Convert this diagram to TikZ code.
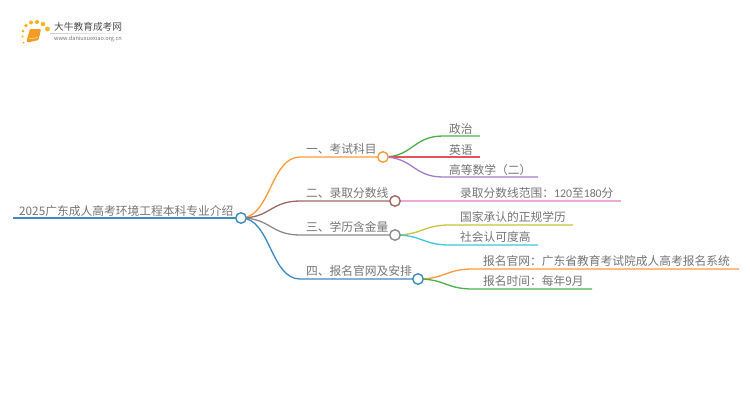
\documentclass[tikz,border=0pt]{standalone}
\usepackage{fontspec}
\setmainfont{Noto Sans CJK SC}
\newfontfamily\digitfont{Carlito}
\usetikzlibrary{calc}
\definecolor{txt}{HTML}{757575}
\definecolor{cblue}{HTML}{3C8AC4}
\definecolor{corange}{HTML}{FF9A3C}
\definecolor{cbrown}{HTML}{A0695F}
\definecolor{cgray}{HTML}{8C8C8C}
\definecolor{cgreen}{HTML}{4CB04A}
\definecolor{cred}{HTML}{E8505B}
\definecolor{cpurple}{HTML}{A57CCB}
\definecolor{cpink}{HTML}{F0A6D8}
\definecolor{colive}{HTML}{C8C442}
\definecolor{ccyan}{HTML}{3CC8DC}
\definecolor{bookor}{HTML}{F59A23}
\tikzset{
  x=1pt,y=-1pt,
  hub/.style={circle,draw=#1,fill=white,line width=1.4pt,minimum size=10.5pt,inner sep=0pt},
  wire/.style={line width=1.3pt,draw=#1},
  lab/.style={font=\fontsize{11.75}{12}\selectfont,text=txt,anchor=base west,inner sep=0pt},
  pt/.style={inner sep=0pt,minimum size=0pt},
}
\newcommand{\linkcurve}[4]{% from, knee, end, colour
  \coordinate (mid) at ($(#1)!0.5!(#2)$);
  \draw[wire=#4] (#1) .. controls (mid |- #1) and (mid |- #2) .. (#2) -- (#3);}
\begin{document}
\begin{tikzpicture}
\useasboundingbox (0,0) rectangle (750,410);
\fill[white] (0,0) rectangle (750,410);
% logo
\foreach \p/\r in {{22.5,36.5}/1.2,{23,31}/1.5,{26,25.5}/1.8,{31,22.5}/2,{37,22}/2.1,{43,24}/2.2,{47.5,29}/2.4,{23.5,42.5}/1}
  \fill[bookor!75!yellow] (\p) circle (\r);
\fill[bookor,rounded corners=1pt] (30,29) -- (41,29) -- (38.5,40) -- (28,42.5) -- (26.5,41) -- cycle;
\draw[white!80!bookor,line width=0.5pt] (29,38.8) -- (38,37.6);
\shade[left color=black!20,right color=white,draw=none] (50,33) rectangle (133,33.6);
\node[pt,anchor=west,font=\fontsize{9.7}{10}\selectfont,text=black!70] (logot) at (54,27) {大牛教育成考网};
\node[pt,anchor=west,font=\fontsize{5.6}{6}\selectfont,text=black!55] (logou) at (54,39) {www.daniuxuexiao.org.cn};
% hubs and line ends
\coordinate (rootL) at (13,218);
\coordinate (rootC) at (241,218);
\coordinate (n1) at (383,157); \coordinate (n1k) at (300,157);
\coordinate (n2) at (395,201); \coordinate (n2k) at (300,201);
\coordinate (n3) at (395,235); \coordinate (n3k) at (300,235);
\coordinate (n4) at (418,279); \coordinate (n4k) at (300,279);
% wires
\draw[wire=cblue] (rootL) -- (rootC);
\linkcurve{rootC}{n1k}{n1}{corange}
\linkcurve{rootC}{n2k}{n2}{cbrown}
\linkcurve{rootC}{n3k}{n3}{cgray}
\linkcurve{rootC}{n4k}{n4}{cblue}
\coordinate (a1k) at (443,136); \coordinate (a1) at (480,136);
\coordinate (a2) at (480,157);
\coordinate (a3k) at (443,177); \coordinate (a3) at (538,177);
\coordinate (b1) at (621,201);
\coordinate (c1k) at (450,225); \coordinate (c1) at (573,225);
\coordinate (c2k) at (450,245); \coordinate (c2) at (538,245);
\coordinate (d1k) at (473,269); \coordinate (d1) at (739,269);
\coordinate (d2k) at (473,289); \coordinate (d2) at (592,289);
\linkcurve{n1}{a1k}{a1}{cgreen}
\draw[wire=cred] (n1) -- (a2);
\linkcurve{n1}{a3k}{a3}{cpurple}
\draw[wire=cpink] (n2) -- (b1);
\linkcurve{n3}{c1k}{c1}{colive}
\linkcurve{n3}{c2k}{c2}{ccyan}
\linkcurve{n4}{d1k}{d1}{corange}
\linkcurve{n4}{d2k}{d2}{cgreen}
% hubs
\node[hub=cblue] (hroot) at (rootC) {};
\node[hub=corange] (h1) at (n1) {};
\node[hub=cbrown] (h2) at (n2) {};
\node[hub=cgray] (h3) at (n3) {};
\node[hub=cblue] (h4) at (n4) {};
% labels
\node[lab] (troot) at (19,215) {2025广东成人高考环境工程本科专业介绍};
\node[lab] (t1) at (306,153.5) {一、考试科目};
\node[lab] (t2) at (306,197.5) {二、录取分数线};
\node[lab] (t3) at (306,231.5) {三、学历含金量};
\node[lab] (t4) at (306,275.5) {四、报名官网及安排};
\node[lab] (ta1) at (449,133.5) {政治};
\node[lab] (ta2) at (449,154) {英语};
\node[lab] (ta3) at (449,174) {高等数学（二）};
\node[lab] (tb1) at (460,197.5) {录取分数线范围：{\digitfont 120}至{\digitfont 180}分};
\node[lab] (tc1) at (460,221.5) {国家承认的正规学历};
\node[lab] (tc2) at (460,241.5) {社会认可度高};
\node[lab] (td1) at (483,265.5) {报名官网：广东省教育考试院成人高考报名系统};
\node[lab] (td2) at (483,285.5) {报名时间：每年9月};
\end{tikzpicture}
\end{document}
